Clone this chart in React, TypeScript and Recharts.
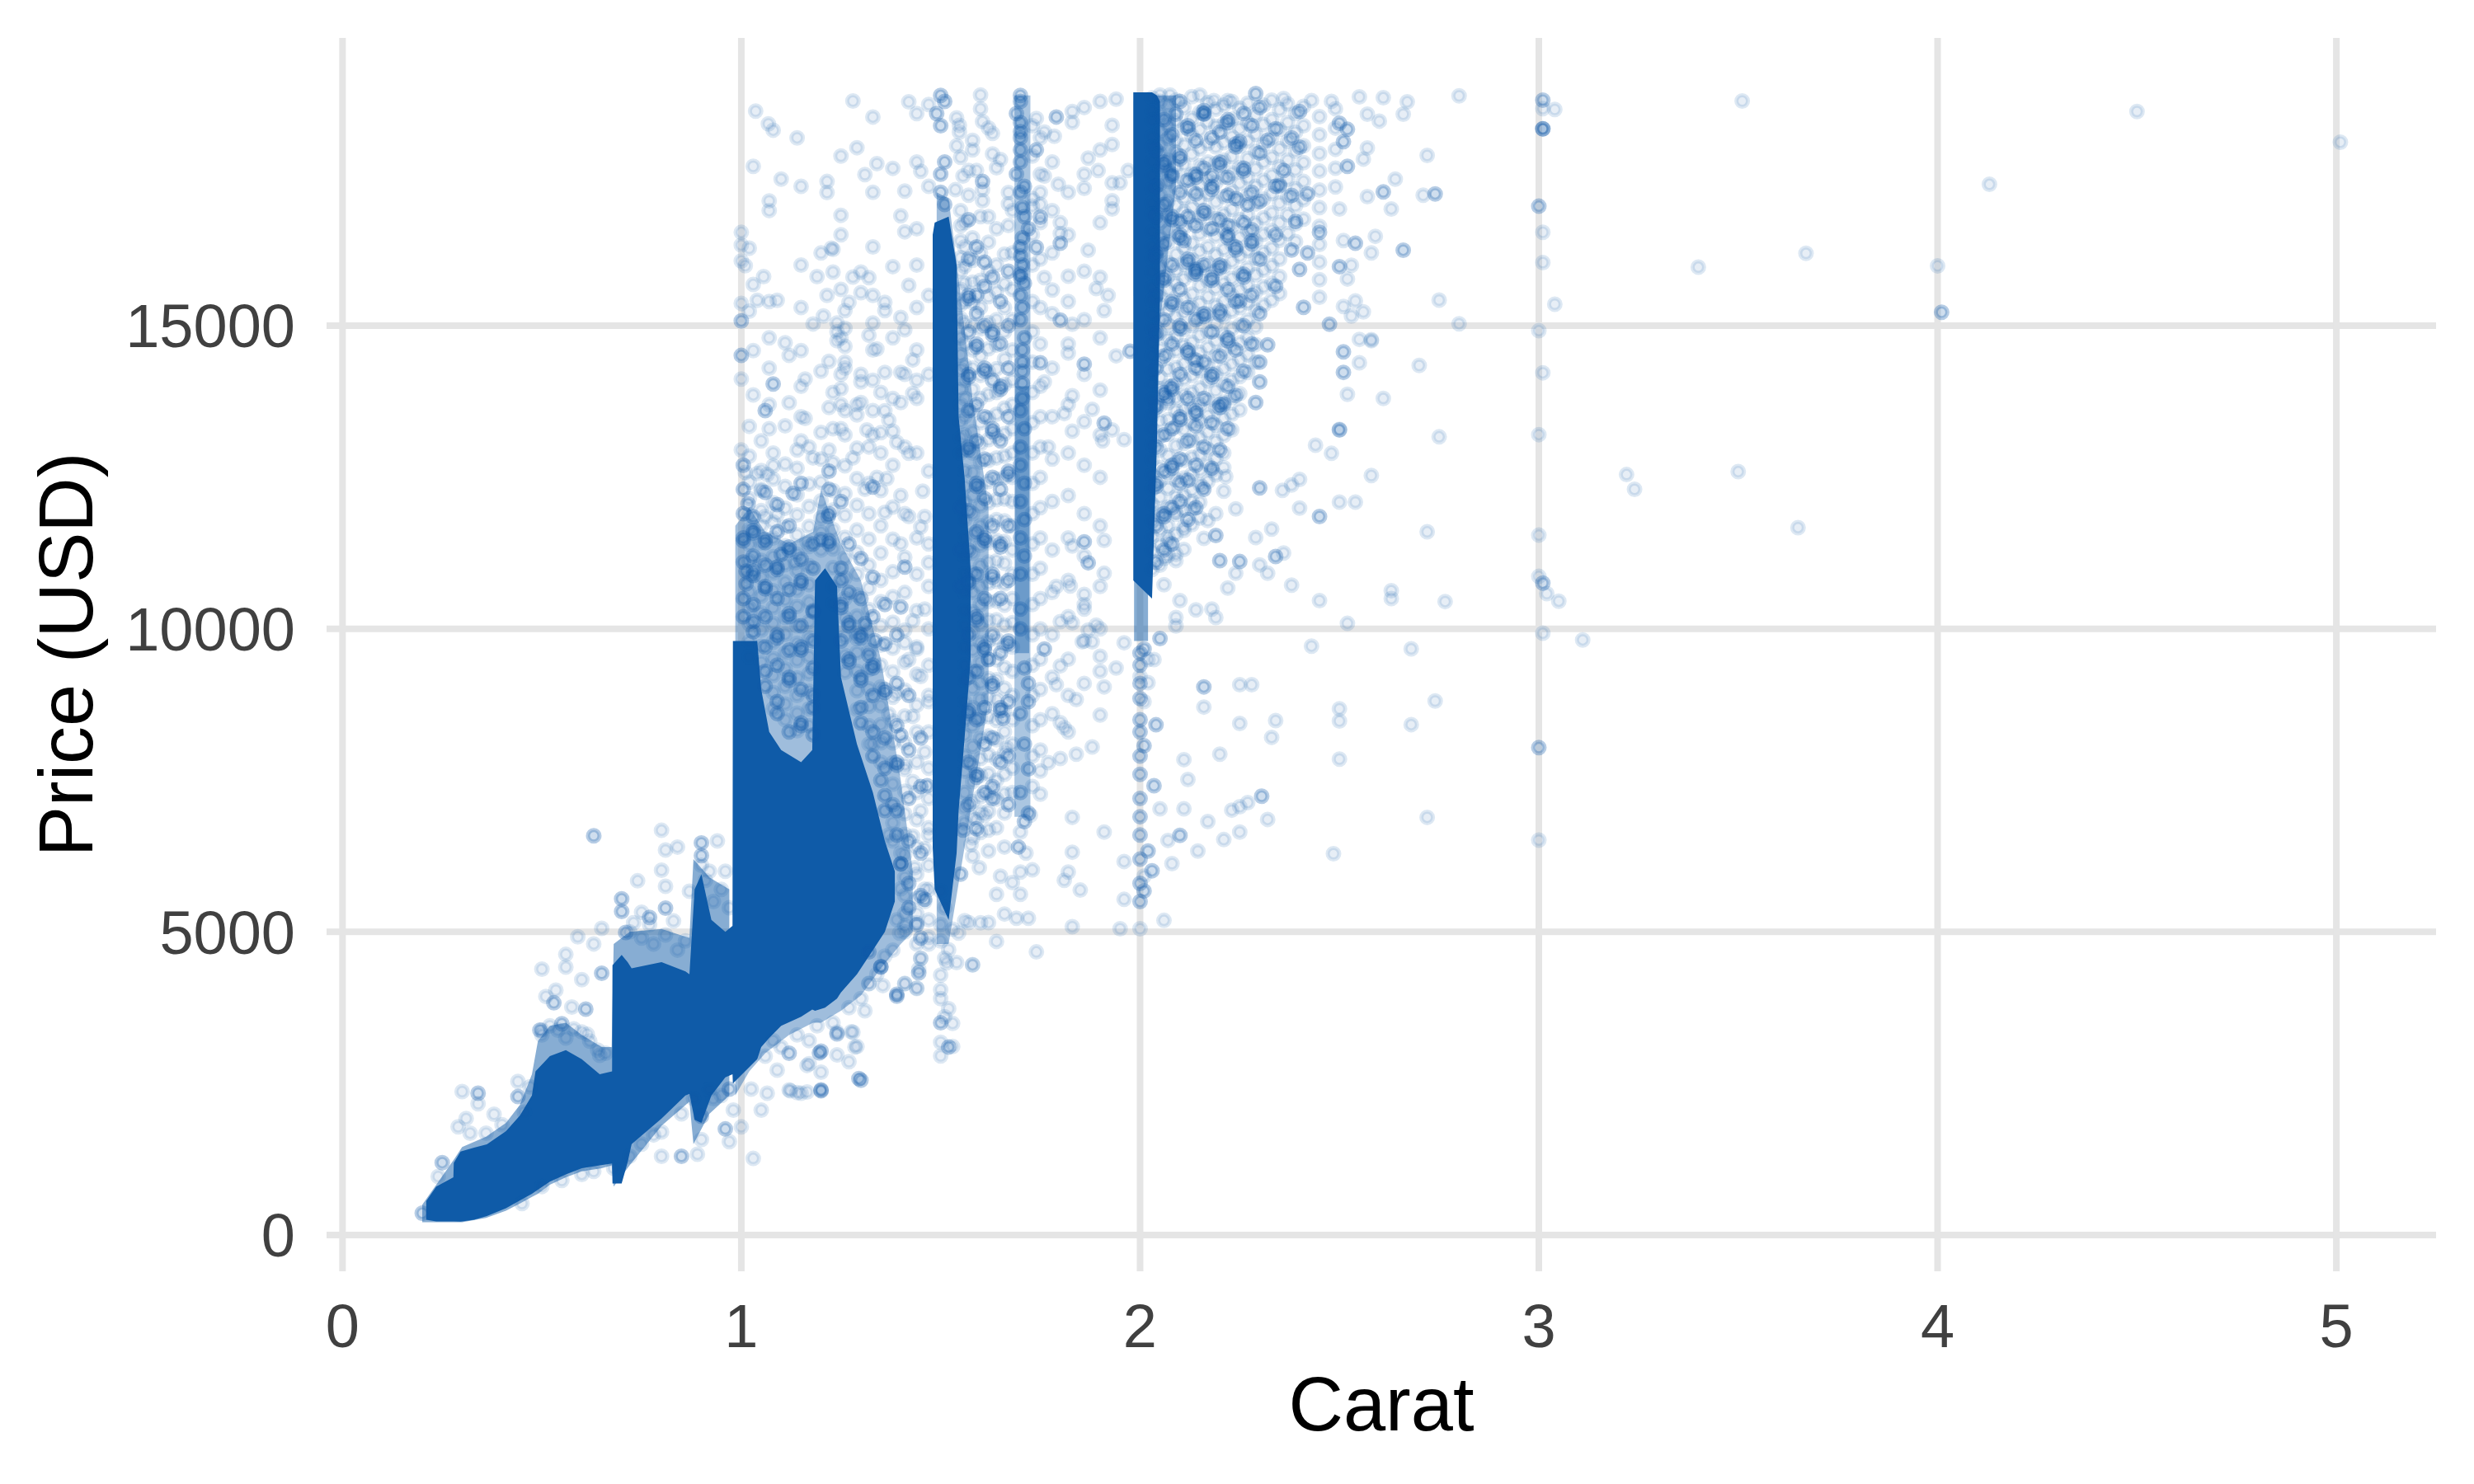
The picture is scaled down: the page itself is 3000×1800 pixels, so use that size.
import { ComposedChart, Area, Scatter, XAxis, YAxis, CartesianGrid } from "recharts"

const BLUE = "#0F5BA8"
const GRID = "#E5E5E5"
const TICK = "#404040"
const FONT = "'Liberation Sans', Arial, sans-serif"

const caratTicks = [0, 1, 2, 3, 4, 5]
const priceTicks = [0, 5000, 10000, 15000]

// solid parts of the cloud: carat, low price, high price
const coreLeft = [
  [0.21, 250, 560], [0.235, 225, 800], [0.278, 225, 950], [0.279, 225, 1190], [0.296, 220, 1375], [0.33, 250, 1440],
  [0.362, 312, 1496], [0.41, 440, 1713], [0.445, 570, 1970], [0.475, 680, 2300], [0.484, 720, 2700], [0.52, 880, 2950],
  [0.56, 1000, 3050], [0.6, 1100, 2900], [0.645, 1150, 2650], [0.676, 1180, 2700], [0.677, 850, 4450], [0.7, 850, 4620],
  [0.715, 1200, 4500], [0.725, 1500, 4400], [0.8, 1920, 4500], [0.86, 2300, 4350], [0.87, 2330, 4300], [0.883, 1900, 5700],
  [0.9, 1850, 5950], [0.925, 2300, 5200], [0.96, 2600, 5000], [0.978, 2650, 5100], [0.979, 2500, 9800], [1.04, 2900, 9800],
  [1.05, 3100, 9000], [1.07, 3250, 8300], [1.1, 3450, 8000], [1.15, 3600, 7800], [1.178, 3720, 8000], [1.185, 3700, 10800],
  [1.21, 3750, 11000], [1.24, 3900, 10700], [1.25, 4000, 9200], [1.29, 4300, 8100], [1.33, 4700, 7300], [1.36, 5000, 6500],
  [1.385, 5500, 6000],
]
const coreOneHalf = [
  [1.48, 6400, 16500], [1.485, 5700, 16700], [1.52, 5200, 16800], [1.54, 6300, 16000], [1.545, 7000, 13500], [1.56, 8200, 12500], [1.575, 9500, 11000],
]
const coreTwo = [
  [1.983, 10800, 18850], [2.03, 10500, 18850], [2.042, 13000, 18800], [2.05, 15500, 18700],
]

// thinner haze around the solid parts
const hazeLeft = [
  [0.2, 210, 500], [0.28, 210, 1250], [0.3, 210, 1450], [0.36, 280, 1620], [0.41, 400, 1850], [0.445, 520, 2150], [0.475, 630, 2650],
  [0.49, 680, 3200], [0.52, 830, 3450], [0.56, 950, 3500], [0.6, 1050, 3300], [0.65, 1100, 3100], [0.675, 1150, 3100], [0.68, 800, 4800],
  [0.72, 1150, 5000], [0.8, 1800, 5050], [0.87, 2200, 4900], [0.88, 1500, 6200], [0.92, 2000, 5900], [0.97, 2300, 5700],
]
const hazeOne = [
  [0.985, 2300, 11700], [1.02, 2700, 12000], [1.06, 3000, 11600], [1.12, 3300, 11400], [1.18, 3500, 11600], [1.2, 3500, 12300],
  [1.25, 3700, 11400], [1.3, 3950, 10800], [1.35, 4400, 9500], [1.4, 4800, 7500], [1.43, 5000, 6000],
]
const hazeOneHalf = [[1.49, 4800, 17200], [1.52, 4800, 17100], [1.55, 6000, 15500], [1.58, 7200, 13800], [1.62, 8800, 12000]]
const hazeSeven = [[1.685, 6900, 18800], [1.725, 6900, 18800]]
const hazeSevenCore = [[1.687, 9600, 14000], [1.722, 9600, 14000]]
const hazeTwoFoot = [[1.985, 9800, 11500], [2.02, 9800, 11500]]
const hazeTwoTop = [[2.04, 14500, 18800], [2.09, 17300, 18800]]

// single diamonds: carat, price
const sparseSmall = [
  [0.24, 965], [0.3, 2366], [0.34, 2165], [0.44, 2533], [0.47, 2443], [0.31, 1922], [0.29, 1784], [0.32, 1680], [0.36, 1680],
  [0.38, 1992], [0.4, 1818], [0.456, 2026], [0.5, 4386], [0.56, 4629], [0.56, 4420], [0.59, 4920], [0.63, 4802], [0.6, 4212],
  [0.535, 4039], [0.51, 3935], [0.5, 3380], [0.575, 3761], [0.614, 3310], [0.645, 2963], [0.74, 5843], [0.8, 6676], [0.81, 6350],
  [0.84, 6400], [0.8, 6017], [0.81, 5753], [0.75, 5323], [0.65, 5060], [0.94, 6500], [0.87, 5670], [0.8, 1298], [0.89, 1332],
  [1.03, 1263], [0.9, 1575], [1.0, 1783], [0.97, 1540], [0.98, 2061], [1.05, 2061], [1.025, 2408], [1.065, 2339], [1.12, 2394],
  [1.15, 2339], [1.2, 2686], [1.17, 2825], [1.27, 2859], [1.09, 2720], [1.08, 3206], [1.17, 3206], [1.28, 3345], [1.24, 3345],
  [1.285, 3102], [1.32, 4143], [1.41, 4143], [1.44, 4074], [1.445, 4386], [1.45, 4559], [1.46, 5705], [1.46, 5500], [1.44, 5150],
  [1.515, 4490], [1.58, 4455], [1.53, 5045], [1.56, 5184], [1.6, 5150],
]
const sparseCloudEdge = [
  [0.5, 3300], [0.52, 3450], [0.54, 3380], [0.56, 3250], [0.58, 3400], [0.6, 3350], [0.62, 3200], [0.64, 3050], [0.66, 3000], [0.72, 5000],
  [0.75, 4900], [0.78, 4800], [0.81, 4950], [0.84, 4700], [0.86, 4850], [0.73, 5150], [0.77, 5120], [0.83, 5180], [0.72, 1300], [0.75, 1500],
  [0.8, 1700], [0.78, 1650], [0.85, 2000], [0.88, 2250], [0.93, 2250], [0.95, 2300], [0.92, 2400], [0.55, 900], [0.6, 1000], [0.5, 800],
  [0.45, 520], [0.63, 1050], [0.68, 1100], [0.9, 6100], [0.92, 6000], [0.95, 5700], [0.93, 5500], [0.97, 5400], [0.96, 6000], [0.91, 5850],
  [1.06, 2950], [1.1, 3100], [1.14, 3300], [1.19, 3450], [1.23, 3500], [1.27, 3750], [1.3, 3900], [1.34, 4300], [1.38, 4700], [1.41, 5100],
  [1.36, 4600], [1.39, 5200], [1.37, 6600], [1.4, 6300], [1.38, 7100], [1.35, 7500], [1.33, 8100],
]
const sparseOneHalfLow = [
  [1.5, 5676], [1.51, 5400], [1.5, 5121], [1.52, 4705], [1.51, 4565], [1.5, 4288], [1.5, 4045], [1.52, 3733], [1.53, 3490],
  [1.5, 3178], [1.53, 3109], [1.5, 2955], [1.5, 4850], [1.51, 3600], [1.5, 3900],
]
const sparseLowRight = [
  [1.74, 4670], [1.58, 4460], [1.54, 4495], [1.64, 4843], [1.545, 4980], [1.72, 5225], [1.69, 5225], [1.66, 5295], [1.62, 5155],
  [1.57, 5155], [1.64, 5620], [1.7, 5620], [1.68, 5815], [1.73, 6023], [1.7, 5988], [1.65, 5919], [1.81, 5850], [1.82, 5988],
  [1.85, 5690], [1.83, 5086], [1.95, 5052], [2.0, 5052], [1.96, 5537], [1.96, 6162], [1.91, 6648], [1.83, 6890], [1.83, 6315],
  [2.01, 5919], [2.06, 5190], [2.08, 6127], [2.07, 6509], [2.145, 6335], [2.17, 6821], [2.21, 6523], [2.25, 6648], [2.32, 6856],
  [2.27, 7134], [2.25, 7064], [2.23, 7009], [2.11, 7030], [2.05, 7030], [2.12, 7515], [2.11, 7842], [2.2, 7932], [2.25, 8438],
  [2.34, 8487], [2.33, 8209], [2.16, 8709], [2.25, 9077], [2.28, 9077], [2.01, 8799], [2.02, 9112], [2.0, 9215], [2.02, 9493],
  [2.035, 9493], [1.96, 9770], [1.94, 9354], [1.9, 9548], [1.91, 9042], [1.9, 8577], [1.84, 8834], [1.8, 8452], [1.81, 8369],
  [1.88, 8050], [1.84, 7932], [1.8, 7862], [1.77, 7793], [2.14, 10312], [2.18, 10326], [2.19, 10187], [2.09, 10187], [2.09, 10048],
  [2.1, 10465], [2.43, 9715], [2.45, 10465], [2.38, 10720], [2.22, 10673], [2.06, 10728], [2.32, 10916], [2.24, 10916], [2.3, 11055],
  [2.36, 11250], [2.29, 11506], [2.33, 11645], [2.16, 11492], [2.24, 11978], [2.4, 11992], [2.357, 12283], [2.38, 12373], [2.4, 12464],
  [1.91, 11457], [1.83, 11367], [1.91, 10916], [1.825, 10708], [1.86, 10569], [1.79, 10700], [1.86, 10326], [1.89, 10062], [1.8, 10118],
  [1.83, 10097], [1.87, 9979], [1.855, 9785], [1.88, 9785], [2.18, 12616], [2.215, 12512], [2.157, 12340], [2.21, 12270], [2.17, 11783],
  [2.07, 11506], [2.05, 11853], [2.09, 11922], [2.11, 11679], [2.06, 11159], [2.09, 11124], [2.19, 11900], [2.13, 12100],
]
const sparseOneToOneHalfHigh = [
  [1.28, 18707], [1.42, 18693], [1.33, 18444], [1.29, 17937], [1.34, 17674], [1.38, 17597], [1.31, 17493], [1.45, 17547], [1.41, 17221],
  [1.215, 17380], [1.215, 17198], [1.25, 16822], [1.4, 16813], [1.41, 16550], [1.23, 16260], [1.38, 15975], [1.23, 15885], [1.3, 15885],
  [1.28, 15803], [1.32, 15794], [1.42, 15667], [1.3, 15545], [1.215, 15500], [1.27, 15386], [1.26, 15250], [1.36, 15386], [1.36, 15250],
  [1.4, 15137], [1.24, 15046], [1.33, 15046], [1.26, 14956], [1.41, 14933], [1.32, 14843], [1.24, 14752], [1.26, 14661], [1.34, 14616],
  [1.43, 14435], [1.22, 14412], [1.26, 14400], [1.26, 14300], [1.36, 14231], [1.4, 14231], [1.3, 14200], [1.3, 14072], [1.25, 13960],
  [1.43, 13882], [1.4, 13733], [1.3, 13733], [1.36, 13597], [1.29, 13530], [1.37, 13440], [1.315, 13280], [1.35, 13235], [1.38, 13260],
  [1.39, 13076], [1.42, 12895], [1.036, 18540], [1.068, 18330], [1.08, 18226], [1.14, 18100], [1.03, 17630], [1.1, 17420], [1.07, 17060],
  [1.0, 16540], [1.0, 16330], [1.02, 16280], [1.0, 16070], [1.01, 15990], [1.056, 15810], [1.03, 15680], [1.0, 15370], [1.02, 15240],
  [1.04, 15420], [1.09, 15420], [1.03, 14590], [1.11, 14720], [1.12, 14510], [1.15, 14590], [1.2, 16200], [1.226, 16280], [1.19, 15810],
  [1.206, 15160], [1.18, 15030], [1.24, 14900], [1.16, 14120], [1.0, 14120], [1.03, 13860], [1.02, 13340], [1.0, 12950], [1.12, 13730],
  [1.16, 13470], [1.2, 14250], [1.22, 13650], [1.26, 13600], [1.14, 12950], [1.18, 12820], [1.08, 12690], [1.04, 12560], [1.22, 12950],
  [1.28, 12820], [1.34, 12500], [1.31, 12300], [1.01, 12580], [1.05, 12300], [1.065, 12547], [1.09, 11888], [1.06, 11853], [1.165, 11436],
  [1.135, 11090], [1.36, 11922], [1.4, 12200], [1.455, 12270], [1.365, 12477], [1.42, 11853], [1.45, 11679], [1.4, 11402], [1.46, 11853],
  [1.47, 11090], [1.46, 10326], [1.43, 10132], [1.29, 9840], [1.41, 9771], [1.44, 9667], [1.42, 9493], [1.45, 9215], [1.39, 8938],
  [1.47, 8799], [1.37, 8591], [1.43, 8556], [1.46, 7966], [1.41, 7758], [1.43, 7480], [1.45, 6995], [1.47, 6717], [1.43, 6578],
  [1.435, 6058], [1.46, 6370], [1.4, 5711], [1.397, 4982], [1.47, 4913], [1.45, 4566], [1.41, 4150], [1.44, 4066], [1.355, 4115],
  [1.32, 4150], [1.31, 3699], [1.29, 3109], [1.276, 3351], [1.24, 2970], [1.165, 2796], [1.123, 2380], [1.14, 2350], [1.165, 2360],
]
const sparseOneHalfToTwo = [
  [1.6, 18807], [1.6, 18580], [1.54, 18430], [1.547, 18308], [1.605, 18367], [1.62, 18263], [1.63, 18172], [1.547, 18195], [1.58, 18059],
  [1.54, 17968], [1.58, 17900], [1.63, 17833], [1.65, 17742], [1.55, 17778], [1.64, 17607], [1.59, 17560], [1.57, 17560], [1.556, 17470],
  [1.537, 17244], [1.605, 17244], [1.67, 17198], [1.57, 17153], [1.605, 17063], [1.67, 17010], [1.62, 16800], [1.67, 16655],
  [1.74, 18420], [1.83, 18535], [1.83, 18354], [1.76, 18195], [1.785, 18127], [1.76, 17470], [1.795, 17335], [1.75, 17198], [1.73, 16972],
  [1.75, 17000], [1.8, 16700], [1.8, 16520], [1.87, 16247], [1.82, 15817], [1.76, 15794], [1.89, 15613], [1.92, 15500], [1.78, 15590],
  [1.91, 15250], [1.83, 15024], [1.94, 14503], [1.82, 14548], [1.9, 13937], [1.83, 13846], [1.76, 14072], [1.88, 13620], [1.81, 13551],
  [1.86, 13416], [1.96, 13121], [1.93, 13280], [1.906, 13100], [1.83, 13260], [1.77, 13000], [1.87, 17765], [1.895, 17560], [1.93, 17356],
  [1.95, 17356], [1.97, 17560], [1.86, 17266], [1.93, 17063], [1.93, 16927], [1.93, 18308], [1.93, 17990], [1.94, 18738], [1.8, 9389],
  [1.79, 9077], [1.75, 7654], [1.75, 7272], [1.725, 6925], [1.7, 6648], [1.714, 6300], [1.576, 6440], [1.62, 6335], [1.597, 6058],
  [1.66, 6960], [1.64, 6717], [1.66, 6400], [1.59, 6856], [1.61, 6925], [1.666, 8036],
]
const sparseTwoPlus = [
  [2.05, 18806], [2.075, 18806], [2.15, 18806], [2.185, 18716], [2.22, 18716], [2.36, 18748], [2.43, 18716], [2.48, 18702], [2.55, 18775],
  [2.61, 18761], [2.67, 18693], [2.8, 18793], [2.57, 18490], [2.6, 18376],
  [2.66, 18490], [2.57, 17932], [2.56, 17750], [2.72, 17810], [2.64, 17420], [2.71, 17153], [2.57, 17130], [2.63, 16927], [2.5, 16927],
  [2.59, 16475], [2.51, 16405], [2.58, 16202], [2.53, 15998], [2.52, 15771], [2.54, 15409], [2.75, 15423], [2.51, 15318], [2.53, 15160],
  [2.56, 15228], [2.8, 15033], [2.55, 14775], [2.58, 14752], [2.55, 14390], [2.7, 14345], [2.52, 13869], [2.61, 13800], [2.75, 13167],
  [2.44, 13030], [2.48, 12895], [2.58, 14770], [2.5, 13290], [2.58, 12530], [2.54, 12090], [2.5, 12090], [2.72, 11600], [2.63, 10630],
  [2.63, 10500], [2.765, 10450], [2.52, 10090], [2.68, 9670], [2.74, 8810], [2.68, 8420], [2.5, 8680], [2.5, 8480], [2.5, 7850], [2.72, 6890],
  [2.485, 6290], [3.04, 18568], [3.51, 18707], [4.5, 18534], [5.01, 18027], [4.13, 17333], [3.01, 16542], [3.01, 16042], [3.4, 15966],
  [3.67, 16195], [4.0, 15987], [3.04, 15355], [3.0, 14918], [3.01, 14224], [3.0, 13204], [3.22, 12545], [3.24, 12302], [3.5, 12593],
  [3.65, 11670], [3.0, 11545], [3.0, 10865], [3.02, 10580], [3.05, 10456], [3.01, 9928], [3.11, 9817], [3.0, 6515], [3.01, 18582],
]

// columns of single diamonds: carat, then the prices read along that carat
const columnsOneUpper = [
  [1.02, [12850, 12420, 12150, 11880, 11640, 11390, 11120, 10860, 10610, 10340, 10080, 9790, 9540]],
  [1.05, [13100, 12610, 12280, 11950, 11700, 11420, 11130, 10850, 10540, 10260, 9980, 9710, 9450]],
  [1.07, [16900, 15400, 14800, 14300, 13700, 13300]],
  [1.08, [12900, 12470, 12080, 11760, 11500, 11190, 10920, 10630, 10350, 10090, 9780, 9510, 9230, 8950, 8680]],
  [1.11, [13350, 12720, 12350, 11990, 11680, 11370, 11060, 10770, 10480, 10190, 9910, 9600, 9340, 9050, 8760, 8500]],
  [1.14, [12650, 12210, 11880, 11550, 11230, 10960, 10640, 10370, 10050, 9760, 9480, 9190, 8900, 8610, 8320]],
  [1.15, [17300, 16000, 15300, 14000, 13500, 13100]],
  [1.17, [13000, 12390, 12020, 11690, 11360, 11040, 10730, 10440, 10120, 9850, 9540, 9260, 8970, 8680, 8400]],
  [1.2, [13240, 12800, 12420, 12110, 11830, 11590, 11300]],
  [1.23, [13900, 13300, 12740, 12280, 11960, 11640, 11320, 11010, 10690, 10420]],
  [1.25, [17800, 16500, 15600, 14800, 14200, 13700, 13300]],
  [1.26, [13200, 12690, 12230, 11870, 11510, 11170, 10840, 10500, 10180, 9870, 9560, 9280]],
  [1.29, [13700, 12980, 12480, 12040, 11630, 11260, 10900, 10560, 10210, 9920, 9610, 9300, 8980, 8670]],
  [1.32, [13000, 12400, 11900, 11480, 11050, 10670, 10320, 9980, 9640, 9330, 9010, 8720, 8400, 8100]],
  [1.33, [17200, 16300, 15500, 14600, 14100, 13600, 13200]],
  [1.35, [13900, 12900, 12280, 11700, 11250, 10800, 10450, 10050, 9730, 9400, 9040, 8730, 8420, 8120, 7800, 7500]],
  [1.38, [14800, 13800, 12700, 12010, 11480, 10940, 10530, 10110, 9680, 9290, 8870, 8480, 8120, 7790, 7440, 7100, 6800, 6500]],
  [1.41, [14200, 13000, 11900, 11180, 10600, 9980, 9450, 8990, 8560, 8120, 7680, 7320, 6950, 6610, 6280, 5900, 5600, 5300, 5000]],
  [1.44, [18500, 17700, 16600, 16000, 15300, 14600, 14100, 13800, 12900, 11500, 10900, 10300, 9700, 9250, 8740, 8300, 7800, 7300, 6850, 6400, 5950, 5550, 5300, 4800]],
  [1.47, [18650, 17300, 15500, 14200, 12600, 11400, 10700, 10000, 9400, 8900, 8300, 7700, 7200, 6600, 6100, 5700, 5200, 4800]],
]
const columnsOneHalfRight = [
  [1.55, [16900, 16650, 16400, 16120, 15900, 15600, 15350, 15120, 14800, 14520, 14280, 13950, 13700, 13420, 13150, 12900]],
  [1.56, [16700, 16300, 15980, 15700, 15400, 15050, 14700, 14350, 14100, 13800, 13500, 13200, 12950, 12600, 12350, 12100, 11800, 11500, 11200, 10900, 10600, 10300, 10050, 9700, 9400, 9150, 8800, 8500, 8250, 7900, 7650, 7300, 7050, 6800]],
  [1.58, [16450, 16080, 15720, 15380, 15000, 14600, 14300, 13950, 13600, 13250, 12900, 12580, 12200, 11900, 11550, 11250, 10920, 10600, 10280, 9950, 9650, 9300, 9020, 8700, 8400, 8060, 7750, 7480, 7150, 6880, 6550, 6250]],
  [1.6, [16800, 16200, 15750, 15300, 14950, 14500, 14180, 13800, 13400, 13050, 12750, 12350, 12030, 11700, 11380, 11040, 10700, 10400, 10080, 9770, 9450, 9110, 8840, 8520, 8190, 7860, 7580, 7230, 6970, 6640]],
  [1.62, [16380, 15900, 15480, 15050, 14620, 14240, 13870, 13480, 13120, 12780, 12430, 12080, 11760, 11420, 11100, 10750, 10450, 10140, 9810, 9500, 9180, 8860, 8550, 8230, 7920, 7610, 7290, 6990, 6680]],
  [1.64, [16600, 16000, 15560, 15100, 14680, 14290, 13900, 13540, 13180, 12820, 12470, 12130, 11800, 11460, 11120, 10780, 10460, 10150, 9830, 9490, 9160, 8830, 8490, 8170, 7850, 7500, 7190]],
  [1.66, [16180, 15690, 15300, 14900, 14450, 14030, 13640, 13220, 12850, 12500, 12140, 11780, 11440, 11080, 10740, 10390, 10060, 9720, 9360, 9020, 8660, 8300, 7950, 7600, 7280]],
  [1.68, [16900, 16200, 15600, 15100, 14600, 14100, 13700, 13300, 12900, 12500, 12100, 11700, 11300, 10900, 10500, 10100, 9700, 9300, 8900, 8500, 8100, 7700, 7300]],
  [1.73, [18300, 17800, 17100, 16500, 16000, 15400, 14900, 14400, 13900, 13400, 12900, 12400, 11900, 11400, 10900, 10400, 9900, 9400, 8900, 8400, 7900, 7400]],
  [1.75, [18100, 17500, 16700, 16100, 15300, 14700, 14000, 13500, 13000, 12500, 12000, 11500, 11000, 10500, 10000, 9500, 9000, 8500, 8000]],
  [1.78, [17700, 16900, 16200, 15200, 14300, 13500, 12800, 12100, 11300, 10600, 9900, 9200, 8600]],
  [1.82, [17200, 16500, 15400, 14700, 13700, 12900, 12200, 11500, 10800, 10200, 9500, 8900, 8300]],
  [1.86, [18600, 17500, 15900, 15100, 14200, 12700, 11900, 11200, 10400, 9800, 9100]],
  [1.9, [18700, 17900, 16700, 15800, 14800, 13200, 12500, 11700, 10700, 10000, 9300]],
]
const columnsTwoRight = [
  [2.03, [18760, 18540, 18390, 18120, 17950, 17710, 17480, 17260, 17020, 16840, 16550, 16310, 16120, 15890, 15630, 15420, 15180, 14960, 14720, 14510, 14230, 14040, 13780, 13520, 13290, 13040, 12790, 12540, 12310, 12060, 11780, 11520, 11290, 10980]],
  [2.05, [18700, 18480, 18210, 17990, 17840, 17590, 17340, 17150, 16930, 16700, 16460, 16240, 15970, 15750, 15510, 15340, 15090, 14880, 14610, 14420, 14150, 13960, 13680, 13430, 13180, 12950, 12660, 12440, 12170, 11920, 11640, 11380, 11050]],
  [2.07, [18650, 18310, 18090, 17730, 17560, 17380, 17050, 16820, 16570, 16380, 16040, 15820, 15600, 15260, 15010, 14780, 14530, 14280, 14000, 13730, 13450, 13210, 12860, 12580, 12320, 12010, 11700, 11430, 11210]],
  [2.09, [18720, 18380, 18050, 17860, 17620, 17290, 16990, 16740, 16510, 16180, 15920, 15690, 15380, 15150, 14820, 14590, 14310, 14060, 13810, 13590, 13340, 13020, 12740, 12460, 12180, 11890, 11560, 11230]],
  [2.11, [18600, 18270, 17980, 17660, 17410, 17110, 16880, 16620, 16290, 16010, 15770, 15450, 15220, 14940, 14670, 14380, 14120, 13860, 13620, 13290, 13060, 12780, 12490, 12200, 11960, 11620, 11310]],
  [2.13, [18780, 18420, 18140, 17830, 17500, 17240, 16950, 16700, 16360, 16090, 15840, 15520, 15300, 15000, 14730, 14470, 14180, 13900, 13660, 13390, 13110, 12830, 12550, 12290, 11980, 11720]],
  [2.15, [18520, 18230, 17920, 17640, 17330, 17080, 16780, 16520, 16230, 15950, 15660, 15370, 15120, 14840, 14560, 14260, 13970, 13700, 13430, 13150, 12880, 12620, 12380, 12090, 11830]],
  [2.17, [18680, 18360, 18010, 17700, 17420, 17170, 16860, 16590, 16300, 16030, 15740, 15480, 15190, 14900, 14640, 14350, 14090, 13770, 13520, 13240, 12960, 12710, 12430]],
  [2.19, [18570, 18290, 17950, 17680, 17360, 17040, 16770, 16480, 16170, 15910, 15620, 15330, 15040, 14750, 14500, 14210, 13930, 13640, 13360, 13090, 12810, 12540]],
  [2.21, [18640, 18330, 18020, 17730, 17450, 17130, 16840, 16560, 16260, 15980, 15700, 15410, 15150, 14860, 14580, 14290, 14030, 13740, 13470, 13190, 12900, 12660]],
  [2.23, [18700, 18410, 18120, 17790, 17520, 17220, 16920, 16640, 16340, 16060, 15780, 15500, 15240, 14950, 14660, 14370, 14100, 13810, 13540, 13280]],
  [2.25, [18590, 18250, 17960, 17610, 17350, 17060, 16750, 16460, 16150, 15860, 15590, 15300, 15010, 14720, 14440, 14160, 13880, 13610]],
  [2.27, [18670, 18340, 18050, 17760, 17440, 17150, 16830, 16550, 16240, 15950, 15670, 15380, 15090, 14800, 14520, 14230]],
  [2.29, [18480, 18160, 17870, 17590, 17300, 17010, 16690, 16400, 16120, 15840, 15560, 15260, 14980, 14690, 14400]],
  [2.31, [18640, 18320, 17990, 17700, 17400, 17090, 16780, 16510, 16210, 15920, 15640, 15340]],
  [2.33, [18720, 18400, 18100, 17780, 17480, 17180, 16860, 16570, 16280, 15990, 15700, 15420]],
  [2.35, [18560, 18240, 17920, 17620, 17330, 17020, 16700, 16410, 16100, 15810, 15530]],
  [2.37, [18660, 18350, 18040, 17730, 17420, 17120, 16830, 16520]],
  [2.39, [18500, 18190, 17880, 17570, 17260, 16980, 16680, 16390]],
  [2.41, [18620, 18300, 17970, 17690, 17380, 17080, 16760]],
  [2.45, [18450, 18150, 17840, 17550, 17240, 16950, 16640, 16340, 16050, 15760, 15470]],
  [2.49, [18580, 18260, 17910, 17600, 17290]],
]

// clumps of diamonds inside the busy zones, drawn as darker rings
const clumpsOne = [
  [1.005, [12700, 12300, 11900, 11500, 11450, 11100, 10500, 10200]],
  [1.03, [11850, 11620, 11580, 11200, 10950, 10880, 10400, 10120, 9950]],
  [1.06, [12250, 11480, 11420, 11050, 10700, 10660, 10200, 9700, 9300, 9050]],
  [1.09, [12050, 11600, 11020, 10980, 10500, 9900, 9850, 9400, 8800, 8600]],
  [1.12, [11700, 11350, 11300, 10650, 10250, 10200, 9650, 9200, 9150, 8300]],
  [1.15, [12400, 11150, 10800, 10750, 10050, 9700, 9650, 9000, 8450, 8400]],
  [1.18, [11400, 11000, 10300, 10280, 9800, 9350, 8900, 8700, 8250]],
  [1.22, [12600, 12300, 11900, 11450, 11400]],
  [1.25, [12100, 11000, 10800, 10400, 10350, 9800]],
  [1.27, [11400, 10600, 10100, 10050, 9500, 9450]],
  [1.3, [10500, 9900, 9850, 9200, 9150, 8700, 8450]],
  [1.33, [10850, 10200, 9400, 9350, 8900, 8300, 7900]],
  [1.36, [10400, 9750, 9000, 8950, 8200, 7700, 7250, 7000]],
  [1.39, [9900, 9100, 8400, 7800, 7750, 7000, 6600]],
  [1.42, [8900, 8000, 7200, 6500, 5800, 5400]],
  [1.45, [8200, 7400, 6300, 5600, 4900]],
]
const clumpsOneHalf = [
  [1.55, [12000, 11300, 10700]],
  [1.57, [16750, 16100, 15500, 15450, 14900, 14200, 14150, 13600, 13000, 12950, 11950, 11300, 10800, 10750, 9900, 9200, 8650, 8600, 7800, 7100]],
  [1.59, [16300, 15500, 15200, 14700, 14650, 13700, 13100, 12400, 12350, 11600, 10900, 10200, 10150, 9300, 8500, 7600, 7550, 6700]],
  [1.61, [16050, 15650, 15000, 14300, 14250, 13500, 12800, 12150, 11500, 11450, 10500, 9700, 9650, 8700, 8100, 7300]],
  [1.63, [15800, 14900, 14850, 14100, 13300, 13250, 12500, 11700, 10900, 10850, 9900, 9100, 9050, 8200, 7400]],
  [1.65, [15400, 14700, 14000, 13950, 13100, 12300, 11400, 11350, 10500, 9600, 8700, 8650, 7800]],
  [1.67, [15900, 15000, 14300, 13500, 12600, 12550, 11700, 10800, 9800, 9750, 8800, 7900, 7100]],
  [1.705, [16950, 16450, 16000, 15300, 14600, 14400, 14250, 14050, 13800]],
]
const clumpsTwo = [
  [2.0, [9600, 9400, 9100, 8850, 8500, 8300, 7900, 7600, 6900, 6600, 6200, 5800, 5500]],
  [2.04, [17900, 17300, 16800, 16200, 16150, 15500, 14900, 14850, 14300, 13700, 13650, 13000, 12400, 12350, 11700, 11100]],
  [2.06, [18400, 17700, 17650, 17000, 16350, 15800, 15750, 15100, 14500, 13900, 13850, 13200, 12600, 11900, 11850, 11300]],
  [2.08, [18150, 17500, 16800, 16750, 16000, 15400, 15350, 14700, 14000, 13950, 13300, 12700, 12650, 12000, 11400]],
  [2.1, [18700, 17800, 17750, 17200, 16500, 16450, 15600, 15000, 14950, 14200, 13500, 13450, 12800, 12100]],
  [2.12, [18300, 18250, 17400, 16800, 16100, 16050, 15300, 14600, 14550, 13800, 13100, 12450, 11800]],
  [2.14, [18050, 17500, 17450, 16650, 15900, 15850, 15100, 14300, 13600, 13550, 12700, 12000]],
  [2.16, [18550, 18500, 17600, 16900, 16850, 16000, 15200, 15150, 14400, 13800, 13000, 12300]],
  [2.18, [18100, 17300, 17250, 16600, 15800, 15750, 14900, 14200, 14150, 13400, 12650]],
  [2.2, [17700, 17650, 16750, 16000, 15950, 15250, 14500, 13700, 13650, 12950]],
  [2.22, [18400, 18350, 17450, 16500, 16450, 15600, 14800, 14750, 14000, 13300]],
  [2.24, [18000, 17950, 17100, 16300, 16250, 15400, 14600, 13850]],
  [2.26, [18500, 17600, 17550, 16700, 15850, 15800, 15000, 14250]],
  [2.28, [18300, 17200, 16400, 16350, 15500, 14700]],
  [2.3, [18600, 17850, 17050, 16100, 15200, 14400]],
  [2.34, [18250, 17300, 16500, 15650]],
  [2.38, [18100, 17150, 16250]],
]

// several diamonds on top of each other, read as one darker ring
const stackedRings = [
  [0.2, 360], [0.25, 1194], [0.34, 2339], [0.44, 2283], [0.53, 3830], [0.495, 3380], [0.55, 3484], [0.61, 3727], [0.65, 4317],
  [0.7, 5545], [0.7, 5337], [0.71, 4990], [0.63, 6586], [0.81, 5392], [0.77, 5240], [0.9, 6260], [0.9, 6468], [0.85, 1298],
  [0.9, 1957], [0.96, 1749], [0.97, 2408], [1.2, 2394], [1.295, 2581], [1.2, 3033], [1.12, 2998], [1.39, 3970], [1.35, 4420], [1.4, 6121],
  [1.5, 3500], [1.52, 3102], [1.55, 5954], [1.556, 6682], [1.63, 7200], [1.656, 8522], [1.62, 9493], [1.76, 9667], [1.695, 6400],
  [2.01, 5676], [2.03, 6009], [2.02, 6335], [2.1, 6592], [2.305, 7238], [2.0, 7200], [2.035, 7411], [2.01, 8070], [2.04, 8417], [2.16, 9042],
  [2.01, 9667], [2.05, 9840], [2.2, 11124], [2.25, 11110], [2.34, 11193], [2.19, 11540], [2.3, 12325], [2.45, 11853], [1.86, 11436], [1.87, 11089],
  [2.1, 12408], [1.0, 15080], [1.0, 14510], [1.08, 14040], [1.06, 13600], [1.13, 12234], [1.017, 12061], [1.218, 11853], [1.2, 11471], [1.3, 11159],
  [1.1, 11228], [1.012, 10950], [1.012, 10742], [1.33, 12339], [1.41, 11020], [1.4, 10361], [1.31, 10083], [1.335, 9806], [1.32, 9563], [1.4, 8244],
  [1.466, 7411], [1.4, 6127], [1.46, 5537], [1.44, 5121], [1.445, 4323], [1.39, 3941], [1.35, 4427], [1.32, 4670], [1.24, 3317], [1.196, 3004], [1.2, 2380], [1.3, 2553],
  [1.605, 17380], [1.79, 18444], [1.74, 17900], [1.75, 16790], [1.8, 16360], [1.74, 16293], [1.8, 15092], [1.86, 14367], [1.975, 14580], [1.75, 14390], [1.91, 13393],
  [2.29, 18829], [2.4, 18535], [2.5, 18340], [2.52, 18240], [2.51, 18036], [2.4, 17946], [2.25, 18036], [2.32, 18060], [2.09, 18490], [2.16, 18490], [2.2, 18195],
  [2.08, 17470], [2.36, 17560], [2.18, 17470], [2.52, 17630], [2.35, 17310], [2.42, 17175], [2.61, 17207], [2.74, 17175], [2.14, 17175], [2.22, 17153], [2.27, 16995],
  [2.39, 16723], [2.22, 16655], [2.1, 16723], [2.28, 16587], [2.11, 16405], [2.45, 16542], [2.54, 16360], [2.42, 16202], [2.66, 16247], [2.14, 15930], [2.4, 15930],
  [2.5, 15975], [2.41, 15305], [2.25, 15409], [2.2, 15183], [2.475, 15024], [2.32, 14684], [2.51, 14570], [2.51, 14231], [2.14, 14435], [2.3, 14072], [2.29, 13733],
  [2.5, 13280], [2.07, 13800], [2.21, 13710], [2.14, 13348],
  [3.01, 18721], [3.01, 18249], [3.01, 18249], [3.0, 16972], [4.01, 15223], [3.01, 10754], [3.0, 8040],
  [1.5, 18800], [1.51, 18700], [1.49, 18500], [1.5, 18300], [1.51, 17700], [1.5, 17500], [1.5, 17200], [1.51, 17000],
  [1.7, 18800], [1.7, 18700], [1.69, 18500], [1.7, 18350], [1.7, 18200], [1.7, 18100], [1.7, 17900], [1.7, 17700], [1.69, 17500], [1.71, 17300], [1.7, 17200],
  [1.71, 16800], [1.72, 16600], [1.7, 16300], [1.7, 16150], [1.7, 15850], [1.7, 15800], [1.71, 15700], [1.7, 15500], [1.7, 15100], [1.71, 14800],
  [1.7, 13600], [1.71, 13300], [1.7, 13000], [1.7, 12700], [1.71, 12400], [1.7, 12100], [1.71, 11800], [1.7, 11500], [1.71, 11200], [1.7, 10900], [1.7, 10326],
  [1.7, 10000], [1.71, 9354], [1.72, 9100], [1.72, 8799], [1.7, 8600], [1.71, 8100], [1.72, 7689], [1.7, 7300], [1.72, 6960], [1.71, 6821],
]

const toBand = (rows) => rows.map(([carat, low, high]) => ({ carat, band: [low, high] }))
const toPoints = (rows) => rows.map(([carat, price]) => ({ carat, price }))
const fromColumns = (columns) => columns.flatMap(([carat, prices]) => prices.map((price) => ({ carat, price })))

const singlePoints = [
  ...toPoints([
    ...sparseSmall, ...sparseCloudEdge, ...sparseOneHalfLow, ...sparseLowRight, ...sparseOneToOneHalfHigh, ...sparseOneHalfToTwo, ...sparseTwoPlus,
  ]),
  ...fromColumns(columnsOneUpper),
  ...fromColumns(columnsOneHalfRight),
  ...fromColumns(columnsTwoRight),
]
const stackedPoints = [
  ...toPoints(stackedRings),
  ...fromColumns(clumpsOne),
  ...fromColumns(clumpsOneHalf),
  ...fromColumns(clumpsTwo),
]

const SingleRing = ({ cx, cy }) => (
  <circle cx={cx} cy={cy} r={7} fill={BLUE} fillOpacity={0.1} stroke={BLUE} strokeOpacity={0.14} strokeWidth={5} />
)
const StackedRing = ({ cx, cy }) => (
  <circle cx={cx} cy={cy} r={7} fill={BLUE} fillOpacity={0.2} stroke={BLUE} strokeOpacity={0.3} strokeWidth={5} />
)

function Band({ rows, opacity }) {
  return (
    <Area
      data={toBand(rows)}
      dataKey="band"
      type="linear"
      fill={BLUE}
      fillOpacity={opacity}
      stroke="none"
      dot={false}
      activeDot={false}
      isAnimationActive={false}
    />
  )
}

export default function App() {
  return (
    <div style={{ position: "absolute", left: 0, top: 0, width: 3000, height: 1800, background: "#fff" }}>
      <ComposedChart width={3000} height={1800} margin={{ top: 46, right: 46, bottom: 0, left: 0 }}>
        <CartesianGrid stroke={GRID} strokeWidth={8} syncWithTicks />
        <XAxis
          type="number"
          dataKey="carat"
          domain={[-0.04, 5.25]}
          ticks={caratTicks}
          allowDataOverflow
          height={258}
          axisLine={false}
          tickLine={false}
          tickMargin={33}
          interval={0}
          tick={{ fontSize: 74, fill: TICK, fontFamily: FONT }}
          label={{ value: "Carat", position: "insideBottom", offset: 65, fontSize: 92, fill: "#000", fontFamily: FONT }}
        />
        <YAxis
          type="number"
          dataKey="price"
          domain={[-599, 19748]}
          ticks={priceTicks}
          allowDataOverflow
          width={396}
          axisLine={false}
          tickLine={false}
          tickMargin={32}
          interval={0}
          tick={{ fontSize: 74, fill: TICK, fontFamily: FONT }}
          label={{ value: "Price (USD)", angle: -90, position: "insideLeft", offset: 79, fontSize: 92, fill: "#000", fontFamily: FONT, style: { textAnchor: "middle" } }}
        />
        {Band({ rows: hazeLeft, opacity: 0.5 })}
        {Band({ rows: hazeOne, opacity: 0.4 })}
        {Band({ rows: hazeOneHalf, opacity: 0.4 })}
        {Band({ rows: hazeSeven, opacity: 0.35 })}
        {Band({ rows: hazeSevenCore, opacity: 0.4 })}
        {Band({ rows: hazeTwoFoot, opacity: 0.5 })}
        {Band({ rows: hazeTwoTop, opacity: 0.45 })}
        {Band({ rows: coreLeft, opacity: 1 })}
        {Band({ rows: coreOneHalf, opacity: 1 })}
        {Band({ rows: coreTwo, opacity: 1 })}
        <Scatter data={singlePoints} dataKey="price" shape={SingleRing} isAnimationActive={false} />
        <Scatter data={stackedPoints} dataKey="price" shape={StackedRing} isAnimationActive={false} />
      </ComposedChart>
    </div>
  )
}
